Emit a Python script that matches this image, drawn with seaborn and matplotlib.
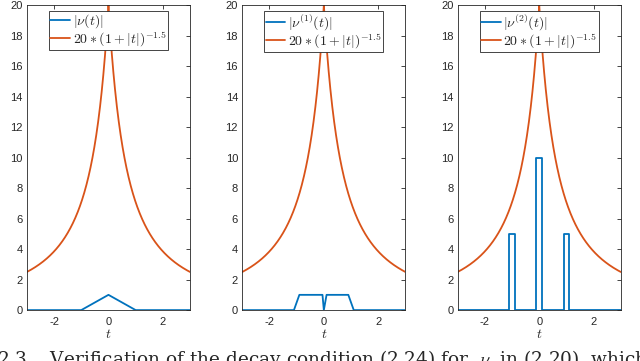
import numpy as np
import pandas as pd
import seaborn as sns
import matplotlib.pyplot as plt

# blue curves: breakpoints
t_nu0 = [-3, -1, 0, 1, 3]
v_nu0 = [0, 0, 1, 0, 0]

t_nu1 = [-3, -1.1, -0.9, -0.05, 0, 0.1, 0.9, 1.1, 3]
v_nu1 = [0, 0, 1, 1, 0, 1, 1, 0, 0]

t_nu2 = [-3, -1.1, -1.1, -0.9, -0.9, -0.1, -0.1, 0.1, 0.1, 0.9, 0.9, 1.1, 1.1, 3]
v_nu2 = [0, 0, 5, 5, 0, 0, 10, 10, 0, 0, 5, 5, 0, 0]

labels = [r'$|\nu(t)|$', r'$|\nu^{(1)}(t)|$', r'$|\nu^{(2)}(t)|$']
env_label = r'$20\ast(1+|t|)^{-1.5}$'

# envelope curve, as given in the legend
t_env = np.linspace(-3, 3, 601)
v_env = 20 * (1 + np.abs(t_env)) ** -1.5

blue = '#0072BD'
orange = '#D95319'

sns.set_theme(style='white')
plt.rcParams['font.family'] = ['Liberation Sans', 'DejaVu Sans']
plt.rcParams['mathtext.fontset'] = 'cm'
plt.rcParams['axes.unicode_minus'] = False

fig, axes = plt.subplots(1, 3, figsize=(6.4, 3.61), dpi=100)
fig.subplots_adjust(left=0.042, right=0.970, bottom=0.141, top=0.986, wspace=0.32)

series = [(t_nu0, v_nu0), (t_nu1, v_nu1), (t_nu2, v_nu2)]
for ax, (tt, vv), lab in zip(axes, series, labels):
    d = pd.DataFrame({'t': tt, 'v': vv})
    e = pd.DataFrame({'t': t_env, 'v': v_env})
    sns.lineplot(data=d, x='t', y='v', ax=ax, color=blue, lw=1.3, label=lab,
                 sort=False, estimator=None)
    sns.lineplot(data=e, x='t', y='v', ax=ax, color=orange, lw=1.3, label=env_label,
                 sort=False, estimator=None)
    ax.set_xlim(-3, 3)
    ax.set_ylim(0, 20)
    ax.set_xticks([-2, 0, 2])
    ax.set_yticks(range(0, 21, 2))
    ax.set_xlabel(r'$t$', fontsize=10, labelpad=0)
    ax.set_ylabel('')
    ax.tick_params(direction='in', length=3, width=0.6, labelsize=8,
                   colors='#262626', top=True, right=True, pad=3)
    ax.tick_params(axis='x', pad=5)
    for s in ax.spines.values():
        s.set_color('#262626')
        s.set_linewidth(0.6)
    leg = ax.legend(loc='upper center', bbox_to_anchor=(0.5, 0.98), fontsize=10,
                    handlelength=1.4, handletextpad=0.2, borderpad=0.1,
                    labelspacing=-0.05, fancybox=False, framealpha=1,
                    borderaxespad=0)
    leg.get_frame().set_edgecolor('#262626')
    leg.get_frame().set_linewidth(0.6)

fig.text(-0.004, (361 - 348) / 361,
         '2.3    Verification of the decay condition (2.24) for  $\\nu$  in (2.20), which should be',
         fontsize=13.3, family='DejaVu Serif', va='top', ha='left')

fig.savefig('out.png', dpi=100)
